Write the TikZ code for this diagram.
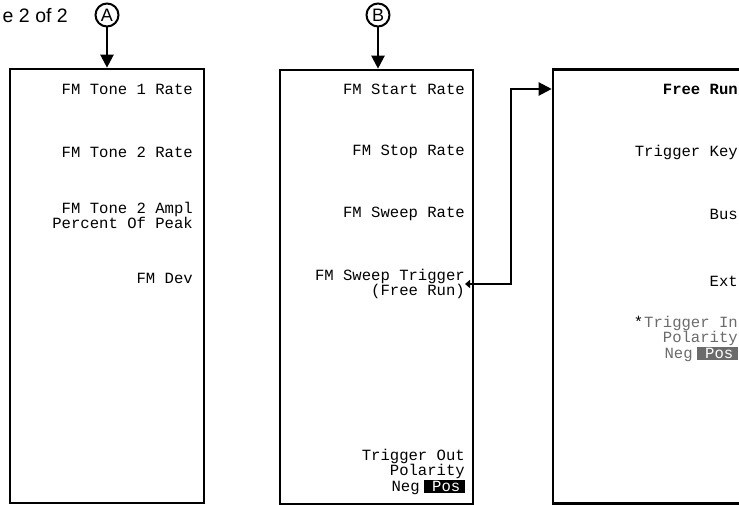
\documentclass[tikz,border=0pt]{standalone}
\usepackage{fontspec}
\usepackage{tikz}
\usetikzlibrary{arrows.meta}
\newfontfamily\lcdfont{Liberation Mono}
\newfontfamily\capfont{Liberation Sans}
\definecolor{dimtext}{gray}{0.42}
\setlength{\fboxsep}{1.5pt}
\newcommand{\selbox}[2]{\colorbox{#1}{\hspace{7pt}\textcolor{white}{#2}\hspace{3pt}}}

\begin{document}
\begin{tikzpicture}[x=1pt,y=1pt,
  panel/.style={draw,line width=2.6pt,minimum width=194pt,minimum height=434pt,inner sep=0pt},
  softkey/.style={anchor=east,align=right,inner sep=0pt,font=\lcdfont\fontsize{15.6}{15}\selectfont},
  badge/.style={draw,circle,line width=2pt,minimum size=23pt,inner sep=0pt,font=\capfont\fontsize{18}{18}\selectfont},
  link/.style={line width=2.2pt,-{Triangle[width=13pt,length=13pt]}}]
  \clip (0,0) rectangle (739,505);
  \node[anchor=east,inner sep=0pt,font=\capfont\fontsize{19.5}{19.5}\selectfont] (pg) at (68,489) {e 2 of 2};
  \node[badge] (circA) at (107,490) {A};
  \node[badge] (circB) at (378,490) {B};
  \node[panel] (boxA) at (107,219) {};
  \node[panel,minimum width=193pt] (boxB) at (376.5,218) {};
  \node[panel] (boxC) at (650,218.5) {};
  \foreach \y/\t [count=\i] in {416/{FM Tone 1 Rate},353/{FM Tone 2 Rate},290/{FM Tone 2 Ampl\\Percent Of Peak},227/{FM Dev}}{
    \node[softkey] (a\i) at (193,\y) {\t};
  }
  \foreach \y/\t [count=\i] in {416/{FM Start Rate},353/{FM Stop Rate},291/{FM Sweep Rate},221/{FM Sweep Trigger\\(Free Run)},33/{Trigger Out\\Polarity\\Neg\hspace{4pt}\selbox{black}{Pos}}}{
    \node[softkey] (b\i) at (465,\y) {\t};
  }
  \node[softkey,font=\lcdfont\bfseries\fontsize{15.6}{15}\selectfont] (c1) at (738,416) {Free Run};
  \foreach \y/\t [count=\i from 2] in {353/{Trigger Key},291/{Bus},224/{Ext}}{
    \node[softkey] (c\i) at (738,\y) {\t};
  }
  \node[softkey,text=dimtext] (c5) at (738,166) {\textcolor{black}{*}\hspace{1pt}Trigger In\\Polarity\\Neg\hspace{4pt}\selbox{dimtext}{Pos}};
  \draw[link] (circA) -- (boxA.north);
  \draw[link] (circB) -- (circB |- boxB.north);
  \draw[link,{Triangle[width=8pt,length=5pt]}-{Triangle[width=13pt,length=13pt]}] (b4.east) -- ++(46,0) |- (boxC.west |- c1);
\end{tikzpicture}
\end{document}
